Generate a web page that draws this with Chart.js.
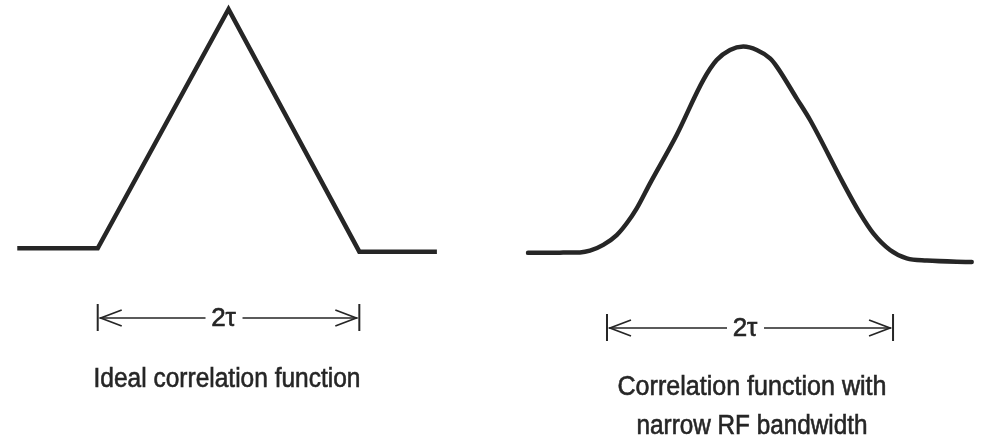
<!DOCTYPE html>
<html>
<head>
<meta charset="utf-8">
<script src="https://cdn.jsdelivr.net/npm/chart.js@4.4.1/dist/chart.umd.min.js"></script>
<style>
    html, body { margin: 0; padding: 0; background: #fff; overflow: hidden; }
    #wrap { position: relative; width: 981px; height: 437px; }
    #leftChart { position: absolute; left: 0; top: 0; }
    #rightChart { position: absolute; left: 490px; top: 0; }
</style>
</head>
<body>
<div id="wrap">
    <canvas id="leftChart" width="490" height="437"></canvas>
    <canvas id="rightChart" width="491" height="437"></canvas>
</div>
<script>
// Lag in units of tau, amplitude relative to the ideal peak
const idealLag = [-1.615, -1, 0, 1, 1.593];
const idealValue = [0.007, 0.007, 1, -0.007, -0.007];

const narrowLag = [-1.552, -1.329, -1.189, -1.119, -1.026, -0.932, -0.862, -0.792, -0.699, -0.513,
                   -0.327, -0.233, -0.14, -0.047, 0.047, 0.14, 0.187, 0.327, 0.42, 0.652,
                   0.769, 0.862, 0.979, 1.096, 1.236, 1.55];
const narrowValue = [-0.012, -0.011, -0.01, -0.003, 0.021, 0.062, 0.111, 0.173, 0.277, 0.478,
                     0.706, 0.789, 0.831, 0.845, 0.831, 0.796, 0.762, 0.629, 0.54, 0.277,
                     0.152, 0.069, 0, -0.035, -0.044, -0.05];

const spanStart = -1;
const spanEnd = 1;
const spanLabel = '2τ';
const idealCaption = ['Ideal correlation function'];
const narrowCaption = ['Correlation function with', 'narrow RF bandwidth'];

const ink = '#262626';

function toPoints(xs, ys) {
    return xs.map((x, i) => ({ x: x, y: ys[i] }));
}

// Draws the |<-- 2τ -->| marker and the caption under a curve
function spanPlugin(opts) {
    return {
        id: 'span_' + opts.key,
        afterDraw(chart) {
            const ctx = chart.ctx;
            const xs = chart.scales.x;
            const x1 = xs.getPixelForValue(spanStart);
            const x2 = xs.getPixelForValue(spanEnd);
            const y = opts.arrowY;
            const mid = (x1 + x2) / 2 - 5;

            ctx.save();
            ctx.strokeStyle = ink;
            ctx.fillStyle = ink;
            ctx.lineCap = 'butt';

            // end bars
            ctx.lineWidth = 2;
            ctx.beginPath();
            ctx.moveTo(x1, y - 14); ctx.lineTo(x1, y + 13);
            ctx.moveTo(x2, y - 14); ctx.lineTo(x2, y + 13);
            ctx.stroke();

            // shafts
            ctx.lineWidth = 1.5;
            ctx.beginPath();
            ctx.moveTo(x1 + 2, y); ctx.lineTo(mid - 18, y);
            ctx.moveTo(mid + 19, y); ctx.lineTo(x2 - 2, y);
            ctx.stroke();

            // open arrow heads
            ctx.lineWidth = 1.7;
            ctx.beginPath();
            ctx.moveTo(x1 + 24, y - 8); ctx.lineTo(x1 + 3, y); ctx.lineTo(x1 + 24, y + 8);
            ctx.moveTo(x2 - 24, y - 8); ctx.lineTo(x2 - 3, y); ctx.lineTo(x2 - 24, y + 8);
            ctx.stroke();

            // label
            ctx.lineWidth = 0.6;
            ctx.font = '26px "Liberation Sans", Arial, sans-serif';
            ctx.textAlign = 'center';
            ctx.textBaseline = 'middle';
            drawSqueezed(ctx, spanLabel, mid, y + 1, 27);

            // caption lines
            ctx.font = '27px "Liberation Sans", Arial, sans-serif';
            ctx.textBaseline = 'alphabetic';
            opts.caption.forEach((line, i) => {
                drawSqueezed(ctx, line, opts.captionX, opts.captionY[i], opts.captionW[i]);
            });
            ctx.restore();
        }
    };
}

function drawSqueezed(ctx, text, cx, cy, width) {
    const w = ctx.measureText(text).width;
    const k = Math.min(1, width / w);
    ctx.save();
    ctx.translate(cx, cy);
    ctx.scale(k, 1);
    ctx.fillText(text, 0, 0);
    ctx.strokeText(text, 0, 0);
    ctx.restore();
}

function chartOptions(xMin, xMax) {
    return {
        responsive: false,
        animation: false,
        layout: { padding: 0 },
        plugins: { legend: { display: false }, tooltip: { enabled: false } },
        elements: { point: { radius: 0 } },
        scales: {
            x: { type: 'linear', display: false, min: xMin, max: xMax },
            y: { type: 'linear', display: false, min: -0.777, max: 1.0386 }
        }
    };
}

new Chart(document.getElementById('leftChart').getContext('2d'), {
    type: 'line',
    data: {
        datasets: [{
            label: 'Ideal correlation function',
            data: toPoints(idealLag, idealValue),
            borderColor: ink,
            borderWidth: 4.5,
            borderJoinStyle: 'miter',
            tension: 0
        }]
    },
    options: chartOptions(-1.747, 1.999),
    plugins: [spanPlugin({
        key: 'ideal', arrowY: 318, caption: idealCaption,
        captionX: 227, captionY: [387], captionW: [267]
    })]
});

new Chart(document.getElementById('rightChart').getContext('2d'), {
    type: 'line',
    data: {
        datasets: [{
            label: 'Correlation function with narrow RF bandwidth',
            data: toPoints(narrowLag, narrowValue),
            borderColor: ink,
            borderWidth: 4.5,
            cubicInterpolationMode: 'monotone',
            borderCapStyle: 'round'
        }]
    },
    options: chartOptions(-1.818, 1.615),
    plugins: [spanPlugin({
        key: 'narrow', arrowY: 328, caption: narrowCaption,
        captionX: 262, captionY: [395, 434], captionW: [269, 231]
    })]
});
</script>
</body>
</html>
